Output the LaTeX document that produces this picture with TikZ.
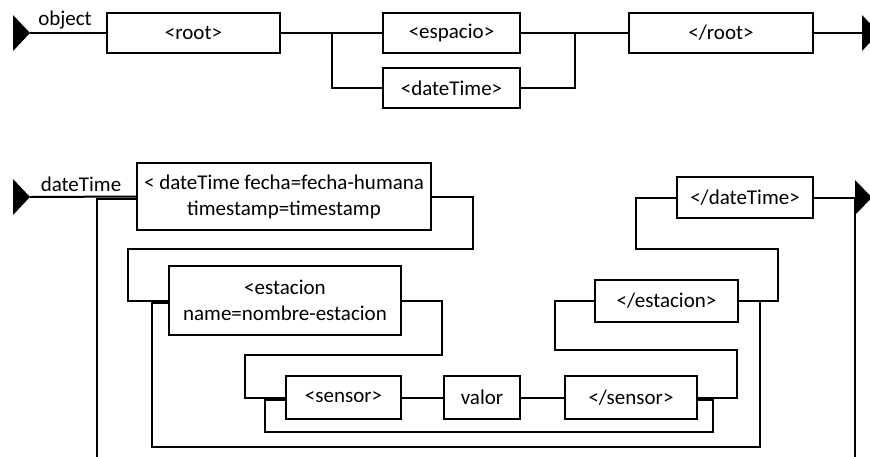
\documentclass[tikz,border=0pt]{standalone}
\usepackage{fontspec}
\setmainfont{Carlito}
\begin{document}
\begin{tikzpicture}[x=1pt,y=-1pt,
  line width=2pt,
  tag/.style={draw, line width=2pt, inner sep=0pt, align=center,
    font=\fontsize{21}{26}\selectfont},
  lbl/.style={inner sep=0pt, font=\fontsize{21}{26}\selectfont},
  tip/.style={fill=black, draw=none}]
\clip (0,0) rectangle (870,456);

% ---------- object ----------
\fill[tip] (13,15) -- (30,33) -- (13,51) -- cycle;
\fill[tip] (862,15) -- (879,33) -- (862,51) -- cycle;
\node[lbl] (lobj) at (65,20) {object};
\coordinate (in1) at (30,33);
\coordinate (out1) at (862,33);

\node[tag, minimum width=173, minimum height=40] (root)  at (193.5,33) {<root>};
\node[tag, minimum width=137, minimum height=40] (esp)   at (451.5,33) {<espacio>};
\node[tag, minimum width=137, minimum height=40] (dt)    at (451.5,88) {<dateTime>};
\node[tag, minimum width=184, minimum height=40] (rootc) at (721,33)   {</root>};

\coordinate (j1) at (332,33);
\coordinate (j2) at (575,33);
\draw (in1) -- (root.west);
\draw (root.east) -- (esp.west);
\draw (j1) |- (dt.west);
\draw (esp.east) -- (rootc.west);
\draw (dt.east) -| (j2);
\draw (rootc.east) -- (out1);

% ---------- dateTime ----------
\fill[tip] (13,179) -- (30,197) -- (13,215) -- cycle;
\fill[tip] (855,180) -- (872,197.5) -- (855,215) -- cycle;
\node[lbl] (ldt) at (81,184) {dateTime};
\coordinate (in2) at (30,197);
\coordinate (out2) at (855,197.5);

\node[tag, minimum width=294, minimum height=67] (dto)  at (284,196.5)
  {< dateTime fecha=fecha-humana\\timestamp=timestamp};
\node[tag, minimum width=232, minimum height=69] (est)  at (285,300.5)
  {<estacion\\name=nombre-estacion};
\node[tag, minimum width=115, minimum height=43] (sen)  at (343.5,397.5) {<sensor>};
\node[tag, minimum width=76,  minimum height=43] (val)  at (482,397.5)   {valor};
\node[tag, minimum width=132, minimum height=43] (senc) at (631,397.5)   {</sensor>};
\node[tag, minimum width=143, minimum height=42] (estc) at (666.5,301)   {</estacion>};
\node[tag, minimum width=136, minimum height=41] (dtc)  at (745,197.5)   {</dateTime>};

% corner points of the routing
\coordinate (c1) at (473,249);
\coordinate (c2) at (128,249);
\coordinate (c3) at (778,249);
\coordinate (c4) at (636,249);
\coordinate (c5) at (760,447);
\coordinate (c6) at (152,447);
\coordinate (c7) at (442,355);
\coordinate (c8) at (245,355);
\coordinate (c9) at (737,350);
\coordinate (c10) at (555,350);
\coordinate (c11) at (713,432);
\coordinate (c12) at (265,432);
\coordinate (j3) at (97,470);
\coordinate (j4) at (855,470);

% main line
\draw (in2) -- (dto.west);
\draw (dto.east) -| (c1) -- (c2) |- (est.west);
\draw (est.east) -| (c7) -- (c8) |- (sen.west);
\draw (sen.east) -- (val.west);
\draw (val.east) -- (senc.west);
\draw (senc.east) -| (c9) -- (c10) |- (estc.west);
\draw (estc.east) -| (c3) -- (c4) |- (dtc.west);
\draw (dtc.east) -- (out2);

% repetition loops
\draw ([yshift=-2pt]dto.west) -| (j3);
\draw (out2) -- (j4);
\draw (estc.east) -| (c5) -- (c6) |- ([yshift=-2pt]est.west);
\draw ([yshift=-2pt]senc.east) -| (c11) -- (c12) |- ([yshift=-2pt]sen.west);
\end{tikzpicture}
\end{document}
